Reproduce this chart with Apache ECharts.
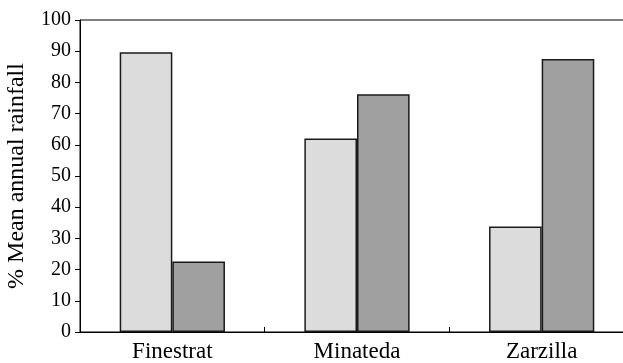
<!DOCTYPE html>
<html><head><meta charset="utf-8">
<script src="https://cdn.jsdelivr.net/npm/echarts@6/dist/echarts.min.js"></script>
<style>html,body{margin:0;padding:0;background:#fff}#c{width:623px;height:363px}</style>
</head><body><div id="c"></div>
<script>
const categories = ['Finestrat', 'Minateda', 'Zarzilla'];
const seriesA = [89.7, 62.0, 33.8];
const seriesB = [22.6, 76.2, 87.5];
const yTicks = {min: 0, max: 100, interval: 10};
const yName = '% Mean annual rainfall';

const chart = echarts.init(document.getElementById('c'));
const font = 'Liberation Serif';
chart.setOption({
  animation: false,
  grid: {left: 80, top: 20, bottom: 31, width: 554, outerBoundsMode: 'none', containLabel: false,
         show: true, borderColor: '#000', borderWidth: 1},
  xAxis: {
    type: 'category', data: categories,
    axisLine: {lineStyle: {color: '#000', width: 1}},
    axisTick: {show: true, inside: true, length: 5, lineStyle: {color: '#000'}},
    axisLabel: {color: '#000', fontFamily: font, fontSize: 23, margin: 8}
  },
  yAxis: {
    type: 'value', min: yTicks.min, max: yTicks.max, interval: yTicks.interval,
    name: yName, nameLocation: 'middle', nameGap: 51,
    nameTextStyle: {color: '#000', fontFamily: font, fontSize: 24},
    axisLine: {show: true, lineStyle: {color: '#000', width: 1}},
    axisTick: {show: true, length: 5, lineStyle: {color: '#000'}},
    axisLabel: {color: '#000', fontFamily: font, fontSize: 20, margin: 9},
    splitLine: {show: false}
  },
  series: [
    {type: 'bar', data: seriesA, barGap: '0%', barCategoryGap: '43%',
     itemStyle: {color: '#dcdcdc', borderColor: '#1a1a1a', borderWidth: 1.5}},
    {type: 'bar', data: seriesB, barGap: '0%', barCategoryGap: '43%',
     itemStyle: {color: '#a0a0a0', borderColor: '#1a1a1a', borderWidth: 1.5}}
  ]
});
</script></body></html>
